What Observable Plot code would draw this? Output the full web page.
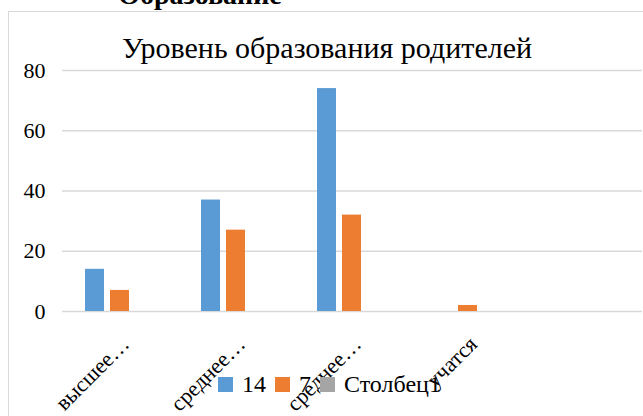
<!DOCTYPE html>
<html>
<head>
<meta charset="utf-8">
<script src="https://cdn.jsdelivr.net/npm/d3@7"></script>
<script src="https://cdn.jsdelivr.net/npm/@observablehq/plot@0.6"></script>
<style>
  html, body { margin: 0; padding: 0; background: #fff; overflow: hidden; }
  #wrap { position: relative; width: 643px; height: 416px; overflow: hidden; font-family: "Liberation Serif", "Times New Roman", serif; color: #000; }
  #frame { position: absolute; left: 8px; top: 11px; width: 800px; height: 600px; border: 1px solid #d9d9d9; box-sizing: border-box; }
  #heading { position: absolute; left: 200px; top: -19px; transform: translateX(-50%); font-size: 28px; line-height: 28px; font-weight: bold; white-space: nowrap; }
  #title { position: absolute; left: 327px; top: 33px; transform: translateX(-50%); font-size: 30px; line-height: 30px; white-space: nowrap; }
  #chart { position: absolute; left: 0; top: 0; }
  #chart svg, #chart svg text { font-family: "Liberation Serif", "Times New Roman", serif !important; }
  #legend { position: absolute; left: 218px; top: 372px; display: flex; align-items: center; font-size: 24px; line-height: 24px; white-space: nowrap; }
  #legend .sw { width: 15px; height: 15px; display: inline-block; margin-right: 9px; }
  #legend .it { display: flex; align-items: center; margin-right: 9px; }
</style>
</head>
<body>
<div id="wrap">
  <div id="frame"></div>
  <div id="chart"></div>
  <div id="heading">Образование</div>
  <div id="title">Уровень образования родителей</div>
  <div id="legend"></div>
</div>
<script>
// Data
const categories = ["высшее…", "среднее…", "среднее…", "учатся", ""];
const seriesNames = ["14", "7", "Столбец1"];
const series14 = [14, 37, 74, 0, null];
const series7 = [7, 27, 32, 2, null];
const seriesCol1 = [null, null, null, null, null];
const colors = ["#5b9bd5", "#ed7d31", "#a5a5a5"];
const yTicks = [0, 20, 40, 60, 80];

const seriesValues = [series14, series7, seriesCol1];
const rows = [];
categories.forEach((c, i) => {
  seriesNames.forEach((s, j) => {
    rows.push({cat: i, series: s, value: seriesValues[j][i]});
  });
});
const gridRows = [];
categories.forEach((c, i) => yTicks.forEach(t => gridRows.push({cat: i, tick: t})));
const labelRows = categories.map((c, i) => ({cat: i, label: c})).filter(d => d.label !== "");
const serif = "Liberation Serif";

const plot = Plot.plot({
  width: 643,
  height: 416,
  marginLeft: 60,
  marginRight: 0,
  marginTop: 70,
  marginBottom: 105,
  style: {background: "transparent", color: "#000", fontFamily: serif, overflow: "visible"},
  fx: {domain: categories.map((c, i) => i), padding: 0, axis: null, label: null},
  x: {domain: seriesNames, paddingInner: 0.23, paddingOuter: 0.857, axis: null, label: null},
  y: {domain: [0, 80], axis: null, label: null},
  color: {domain: seriesNames, range: colors},
  marks: [
    Plot.ruleY(gridRows, {fx: "cat", y: "tick", stroke: "#d9d9d9", strokeWidth: 1.5}),
    Plot.barY(rows.filter(d => d.value != null), {fx: "cat", x: "series", y: "value", fill: "series"}),
    Plot.axisY(yTicks, {tickSize: 0, tickPadding: 17, fontSize: 22, fontFamily: serif, fill: "#000", label: null, facetAnchor: "left"}),
    Plot.text(labelRows, {fx: "cat", text: "label", frameAnchor: "bottom", rotate: -45, textAnchor: "end", lineAnchor: "bottom", dx: 10, dy: 34, fontSize: 22, fontFamily: serif, fill: "#000"})
  ]
});
document.getElementById("chart").appendChild(plot);

const legend = document.getElementById("legend");
seriesNames.forEach((s, i) => {
  const it = document.createElement("span");
  it.className = "it";
  const sw = document.createElement("span");
  sw.className = "sw";
  sw.style.background = colors[i];
  const tx = document.createElement("span");
  tx.textContent = s;
  it.appendChild(sw);
  it.appendChild(tx);
  legend.appendChild(it);
});
</script>
</body>
</html>
